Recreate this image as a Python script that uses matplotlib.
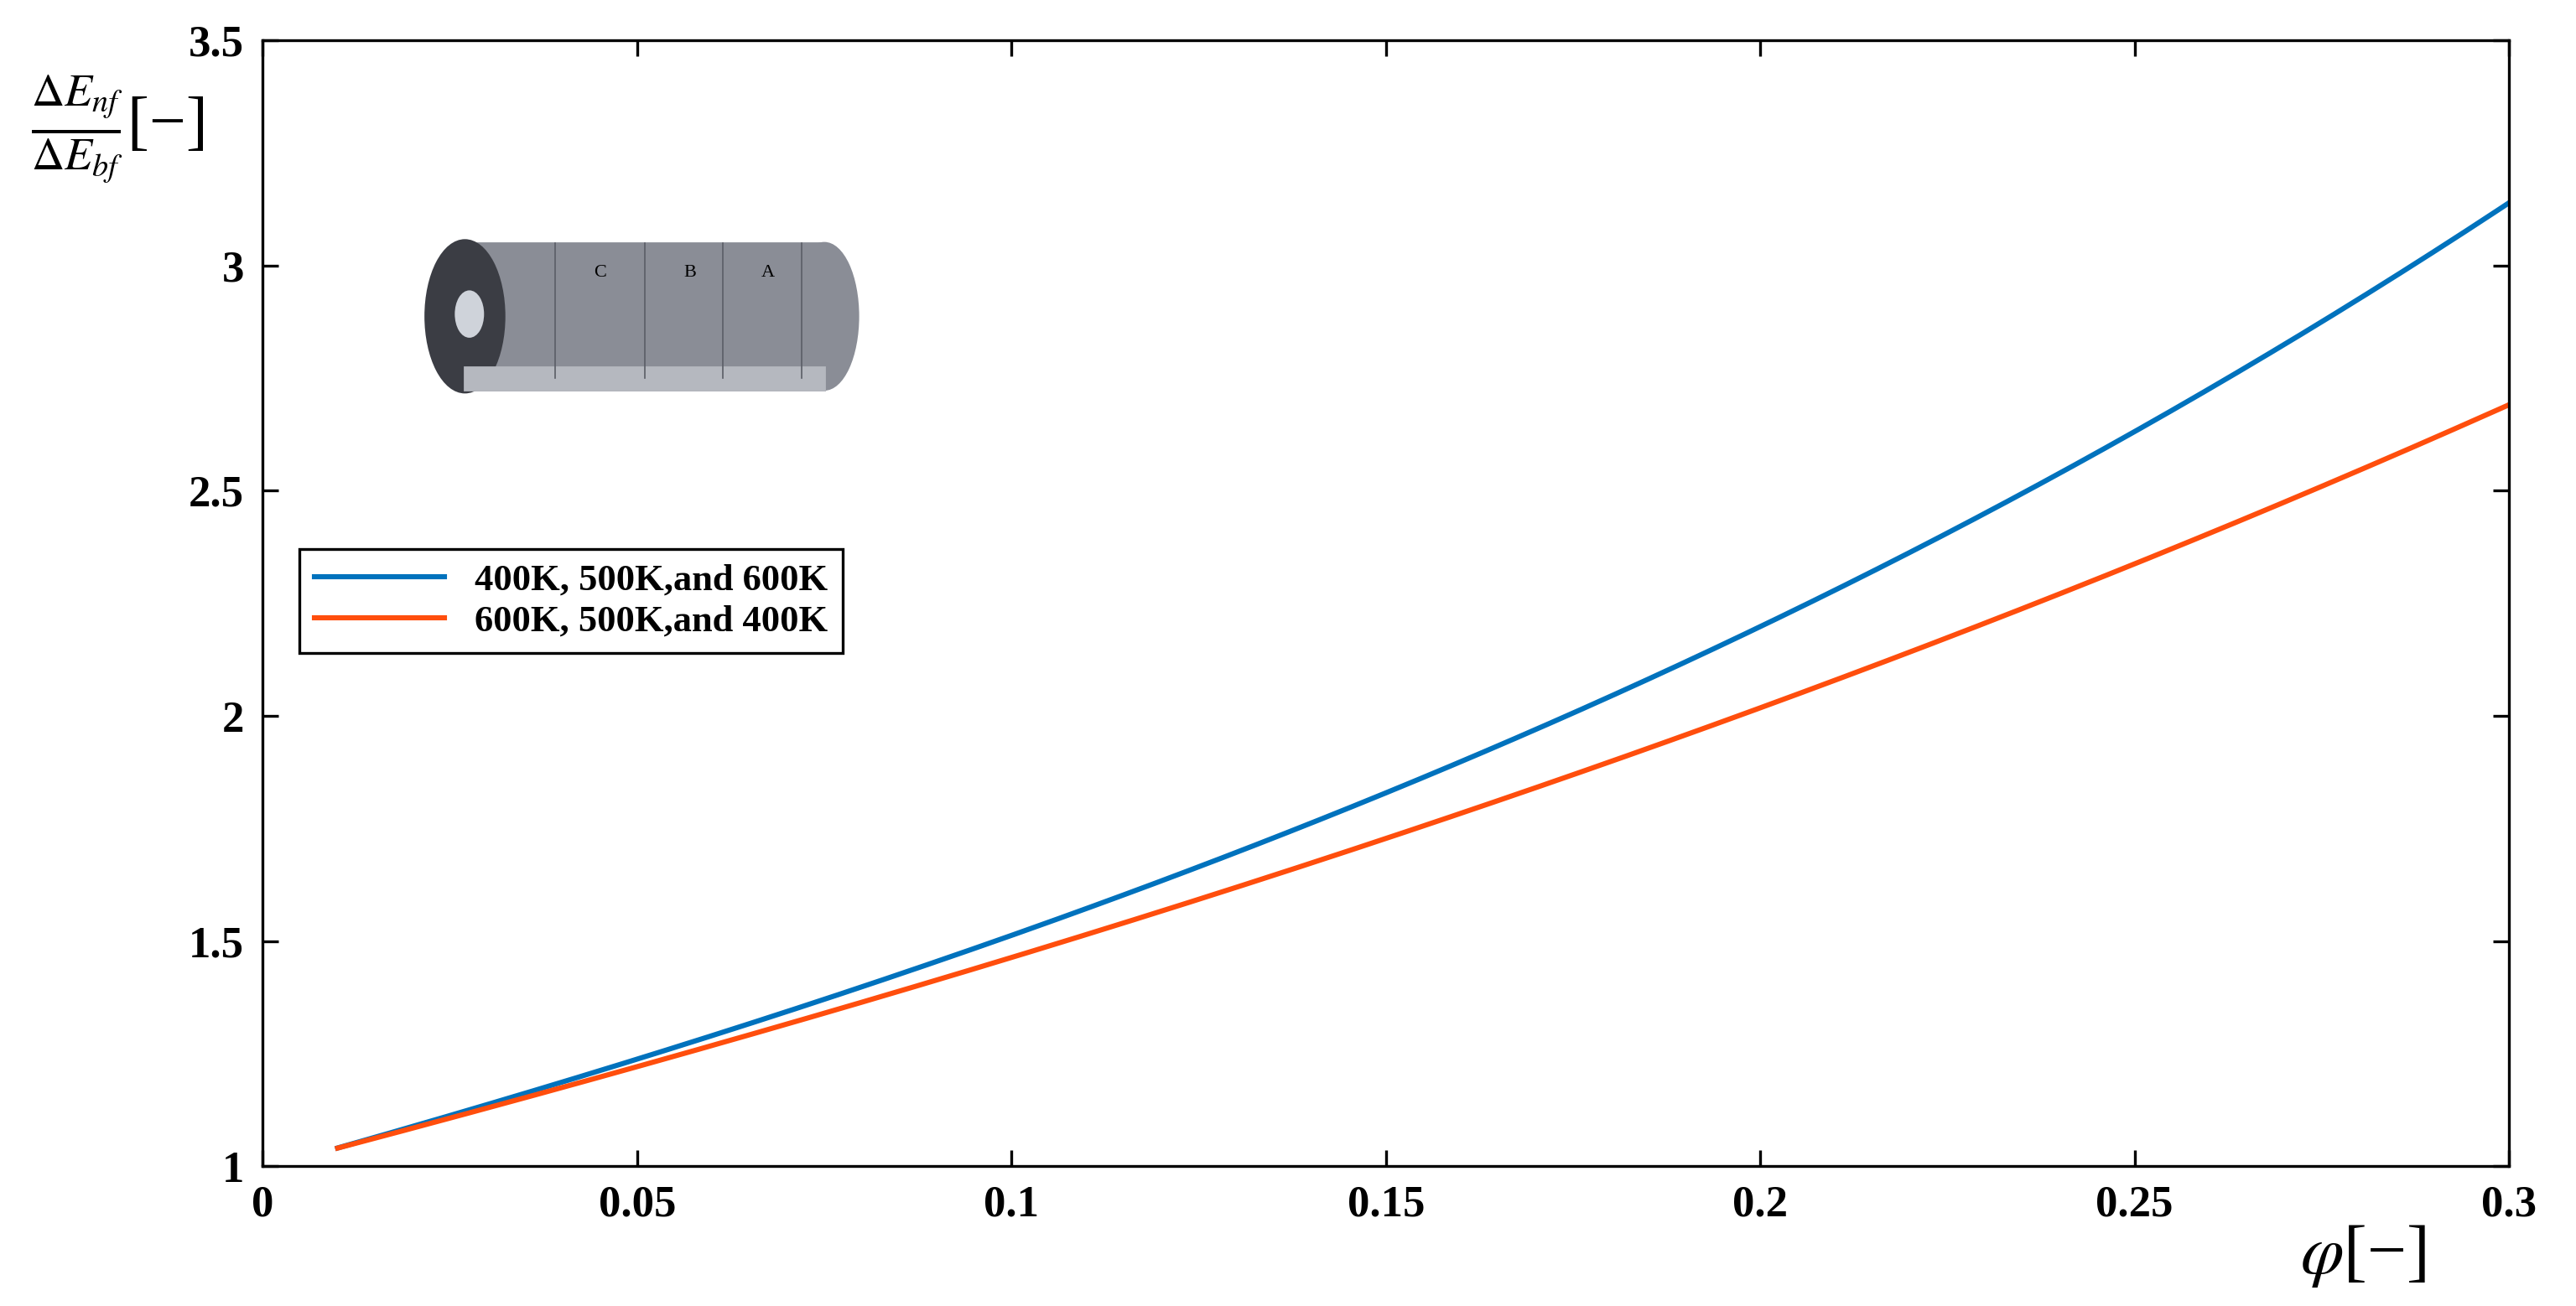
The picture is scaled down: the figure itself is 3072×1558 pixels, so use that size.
import matplotlib
matplotlib.use("Agg")
import matplotlib.pyplot as plt
from matplotlib.patches import Rectangle, Ellipse
import numpy as np

x_vals = [0.01, 0.05, 0.10, 0.15, 0.20, 0.25, 0.30]
blue_vals = [1.04, 1.24, 1.51, 1.83, 2.20, 2.63, 3.14]
orange_vals = [1.04, 1.22, 1.47, 1.72, 2.02, 2.34, 2.69]
labels = ["400K, 500K,and 600K", "600K, 500K,and 400K"]
xticks = [0, 0.05, 0.1, 0.15, 0.2, 0.25, 0.3]
xticklabels = ["0", "0.05", "0.1", "0.15", "0.2", "0.25", "0.3"]
yticks = [1, 1.5, 2, 2.5, 3, 3.5]
yticklabels = ["1", "1.5", "2", "2.5", "3", "3.5"]

plt.rcParams['font.family'] = ['Liberation Serif', 'DejaVu Serif']
plt.rcParams['mathtext.fontset'] = 'stix'

fig = plt.figure(figsize=(15.36, 7.79), dpi=200)
ax = fig.add_axes([0.102, 0.107, 0.872, 0.862])

xs = np.linspace(0.01, 0.3, 200)
cb = np.polyfit(x_vals, blue_vals, 3)
co = np.polyfit(x_vals, orange_vals, 3)
ax.plot(xs, np.polyval(cb, xs), color='#0072BD', lw=2.2, label=labels[0])
ax.plot(xs, np.polyval(co, xs), color='#FF4E0D', lw=2.2, label=labels[1])

ax.set_xlim(0, 0.3)
ax.set_ylim(1, 3.5)
ax.set_xticks(xticks)
ax.set_xticklabels(xticklabels)
ax.set_yticks(yticks)
ax.set_yticklabels(yticklabels)
ax.tick_params(direction='in', top=True, right=True, length=7, width=1.2, labelsize=19, pad=8)
for l in ax.get_xticklabels() + ax.get_yticklabels():
    l.set_fontweight('bold')
for s in ax.spines.values():
    s.set_linewidth(1.2)

leg = ax.legend(loc='upper left', bbox_to_anchor=(0.008, 0.565), fancybox=False,
                edgecolor='black', framealpha=1, prop={'size': 16, 'weight': 'bold'},
                handlelength=3.5, borderpad=0.4, labelspacing=0.2)
leg.get_frame().set_linewidth(1.2)

# inset cylinder sketch
tr = ax.transAxes
ax.add_patch(Rectangle((0.09, 0.69), 0.16, 0.13, transform=tr, color='#8a8d96', zorder=3))
ax.add_patch(Ellipse((0.25, 0.755), 0.03, 0.13, transform=tr, color='#8a8d96', zorder=3))
ax.add_patch(Ellipse((0.09, 0.755), 0.035, 0.135, transform=tr, color='#3b3d44', zorder=4))
ax.add_patch(Ellipse((0.092, 0.757), 0.012, 0.04, transform=tr, color='#cfd3da', zorder=5))
ax.add_patch(Rectangle((0.09, 0.69), 0.16, 0.02, transform=tr, color='#b5b8bf', zorder=4))
for xc, t in [(0.15, 'C'), (0.19, 'B'), (0.225, 'A')]:
    ax.text(xc, 0.79, t, transform=tr, fontsize=8, zorder=6, ha='center')
for xc in [0.13, 0.17, 0.205, 0.24]:
    ax.plot([xc, xc], [0.70, 0.82], transform=tr, color='#5a5d66', lw=0.6, zorder=5)

fig.text(0.012, 0.89, r'$\frac{\Delta E_{nf}}{\Delta E_{bf}}$[−]', fontsize=28)
fig.text(0.893, 0.025, r'$\varphi$[−]', fontsize=30)

fig.savefig('out.png', dpi=200)
